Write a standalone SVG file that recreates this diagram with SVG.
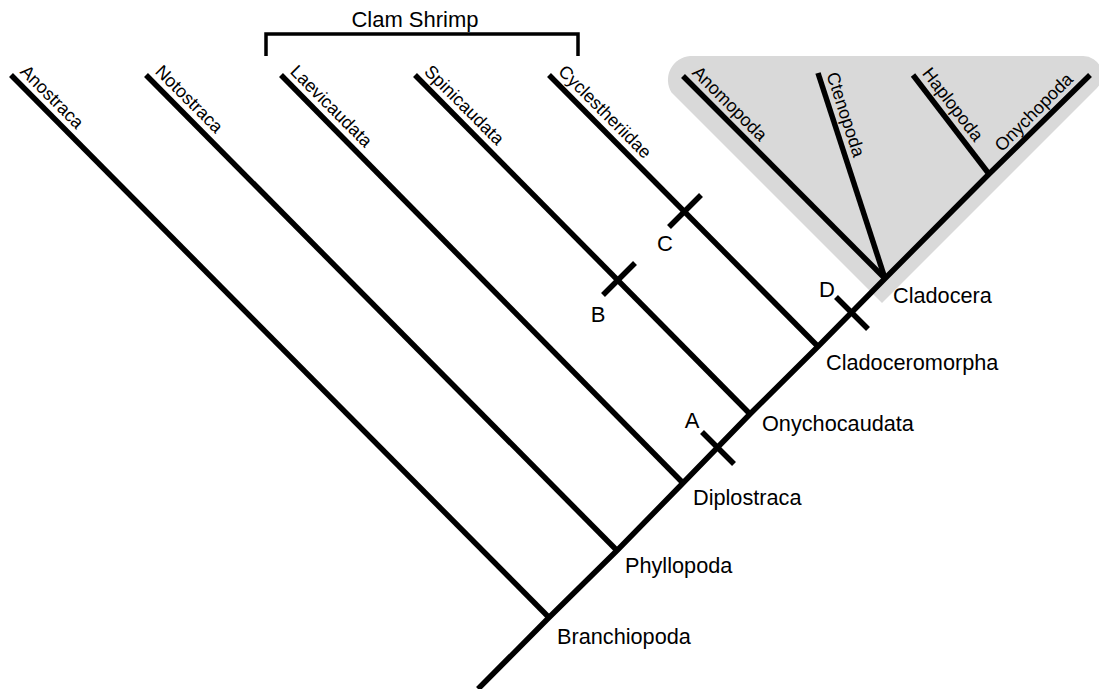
<svg xmlns="http://www.w3.org/2000/svg" width="1099" height="689" viewBox="0 0 1099 689">
<style>
.br{fill:none;stroke:#000;stroke-width:5.5;stroke-linecap:butt;stroke-linejoin:miter}
.tk{fill:none;stroke:#000;stroke-width:5.5}
.bk{fill:none;stroke:#000;stroke-width:3.5}
.lf{font-family:"Liberation Sans",Arial,sans-serif;font-size:18px;fill:#000}
.nd{font-family:"Liberation Sans",Arial,sans-serif;font-size:21.7px;fill:#000}
.lt{font-family:"Liberation Sans",Arial,sans-serif;font-size:22px;fill:#000;text-anchor:middle}
</style>
<rect width="1099" height="689" fill="#fff"/>
<g id="cladocera-shade">
<path d="M690 56 L1083 56 A19 19 0 0 1 1096.5 88.5 L882 303 L671.5 92.5 A24 24 0 0 1 690 56 Z" fill="#d9d9d9"/>
</g>
<g id="connectors">
<polyline class="br" points="478,689 549,617.5 617,550.5 683,483 750,414 818,346.5 885,278.5 989,174 1090,75"/>
<line class="br" x1="11" y1="75" x2="549" y2="617.5"/>
<line class="br" x1="146" y1="75" x2="617" y2="550.5"/>
<line class="br" x1="281" y1="75" x2="683" y2="483"/>
<line class="br" x1="415" y1="75" x2="750" y2="414"/>
<line class="br" x1="549" y1="75" x2="818" y2="346.5"/>
<line class="br" x1="683" y1="76" x2="885" y2="278.5"/>
<line class="br" x1="818" y1="73" x2="885" y2="278.5"/>
<line class="br" x1="913" y1="75" x2="989" y2="174"/>
</g>
<g id="ticks">
<line class="tk" x1="669" y1="227" x2="701" y2="195"/>
<line class="tk" x1="603" y1="295" x2="635" y2="263"/>
<line class="tk" x1="702" y1="432" x2="734" y2="464"/>
<line class="tk" x1="836" y1="297" x2="868" y2="329"/>
<text class="lt" x="692" y="428">A</text>
<text class="lt" x="598" y="322">B</text>
<text class="lt" x="665" y="251">C</text>
<text class="lt" x="827" y="297">D</text>
</g>
<g id="clam-shrimp">
<path class="bk" d="M266 56 V34 H578 V56"/>
<text class="lt" x="415" y="27">Clam Shrimp</text>
</g>
<g id="leaf-anostraca"><text class="lf" transform="translate(11,75) rotate(45)" x="4" y="-7.5">Anostraca</text></g>
<g id="leaf-notostraca"><text class="lf" transform="translate(146,75) rotate(45)" x="4" y="-7.5">Notostraca</text></g>
<g id="leaf-laevicaudata"><text class="lf" transform="translate(281,75) rotate(45)" x="4" y="-7.5">Laevicaudata</text></g>
<g id="leaf-spinicaudata"><text class="lf" transform="translate(415,75) rotate(45)" x="4" y="-7.5">Spinicaudata</text></g>
<g id="leaf-cyclestheriidae"><text class="lf" transform="translate(549,75) rotate(45)" x="4" y="-7.5">Cyclestheriidae</text></g>
<g id="leaf-anomopoda"><text class="lf" transform="translate(683,76) rotate(45)" x="4" y="-7.5">Anomopoda</text></g>
<g id="leaf-ctenopoda"><text class="lf" transform="translate(818,73) rotate(72)" x="4" y="-7.5">Ctenopoda</text></g>
<g id="leaf-haplopoda"><text class="lf" transform="translate(913,75) rotate(52.4)" x="4" y="-7.5">Haplopoda</text></g>
<g id="leaf-onychopoda"><text class="lf" transform="translate(1090,75) rotate(-45)" x="-15" y="-7.5" text-anchor="end">Onychopoda</text></g>
<g id="node-branchiopoda"><text class="nd" x="557" y="644">Branchiopoda</text></g>
<g id="node-phyllopoda"><text class="nd" x="625" y="573">Phyllopoda</text></g>
<g id="node-diplostraca"><text class="nd" x="693" y="505">Diplostraca</text></g>
<g id="node-onychocaudata"><text class="nd" x="762" y="431">Onychocaudata</text></g>
<g id="node-cladoceromorpha"><text class="nd" x="826" y="370">Cladoceromorpha</text></g>
<g id="node-cladocera"><text class="nd" x="893" y="303">Cladocera</text></g>
</svg>
